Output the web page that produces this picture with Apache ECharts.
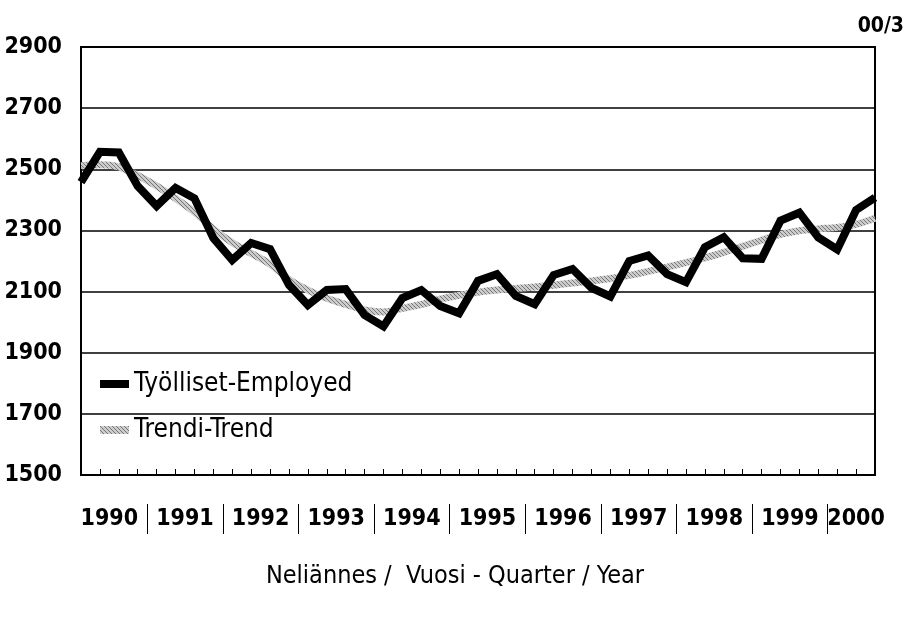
<!DOCTYPE html>
<html>
<head>
<meta charset="utf-8">
<script src="https://cdn.jsdelivr.net/npm/echarts@6/dist/echarts.min.js"></script>
<style>
html, body { margin: 0; padding: 0; background: #fff; }
#main { width: 910px; height: 619px; }
</style>
</head>
<body>
<div id="main"></div>
<script>
// vuodet ja neljännekset, 1990Q1 - 2000Q3
var years = ['1990', '1991', '1992', '1993', '1994', '1995', '1996', '1997', '1998', '1999', '2000'];
var quarterNames = ['I', 'II', 'III', 'IV'];
var quarters = [];
years.forEach(function (y, yi) {
    quarterNames.forEach(function (q, qi) {
        if (yi < years.length - 1 || qi < 3) quarters.push(y + '/' + q);
    });
});

// työlliset, tuhatta henkeä
var employed = [
    2458, 2557, 2555, 2445, 2380, 2439, 2405, 2275, 2203, 2259, 2239,
    2122, 2056, 2105, 2108, 2023, 1986, 2079, 2105, 2053, 2029, 2135,
    2157, 2086, 2059, 2154, 2174, 2112, 2084, 2200, 2218, 2157, 2131,
    2245, 2278, 2209, 2207, 2332, 2358, 2277, 2238, 2367, 2407
];
// trendi
var trend = [
    2512, 2515, 2508, 2480, 2445, 2405, 2360, 2305, 2260, 2225, 2190,
    2140, 2105, 2078, 2058, 2040, 2033, 2045, 2058, 2075, 2088, 2098,
    2105, 2110, 2115, 2121, 2128, 2135, 2143, 2153, 2166, 2180, 2195,
    2210, 2228, 2248, 2268, 2287, 2299, 2305, 2310, 2320, 2340
];

// vuosien paikat neljännesakselilla
var yearLabelPos = [1.5, 5.5, 9.5, 13.5, 17.5, 21.5, 25.5, 29.5, 33.5, 37.5, 41];
var yearSepPos = [3.5, 7.5, 11.5, 15.5, 19.5, 23.5, 27.5, 31.5, 35.5, 39.5];

var narrow = "'DejaVu Sans Condensed', 'Liberation Sans Narrow', sans-serif";

// rasteri trendiviivalle
var pat = document.createElement('canvas');
pat.width = 4; pat.height = 4;
var pc = pat.getContext('2d');
pc.fillStyle = '#cccccc';
pc.fillRect(0, 0, 4, 4);
pc.fillStyle = '#777777';
pc.fillRect(0, 0, 1, 1); pc.fillRect(1, 1, 1, 1); pc.fillRect(2, 2, 1, 1); pc.fillRect(3, 3, 1, 1);
var hatch = { image: pat, repeat: 'repeat' };

var myChart = echarts.init(document.getElementById('main'));
var option = {
    animation: false,
    backgroundColor: '#fff',
    grid: {
        left: 81,
        top: 47,
        right: 35,
        bottom: 144,
        outerBoundsMode: 'none',
        containLabel: false,
        show: true,
        borderColor: '#000',
        borderWidth: 2
    },
    legend: {
        orient: 'vertical',
        left: 100,
        top: 371,
        padding: 0,
        itemWidth: 29,
        itemHeight: 8,
        itemGap: 20,
        textStyle: { fontFamily: narrow, fontSize: 26, lineHeight: 26, color: '#000' },
        data: [
            { name: 'Työlliset-Employed', icon: 'rect' },
            { name: 'Trendi-Trend', icon: 'rect' }
        ]
    },
    xAxis: [
        {
            type: 'category',
            boundaryGap: false,
            data: quarters,
            axisLine: { lineStyle: { color: '#000', width: 2 } },
            axisTick: { show: true, inside: true, length: 6, interval: 0, lineStyle: { color: '#000', width: 1 } },
            axisLabel: { show: false },
            splitLine: { show: false }
        },
        {
            type: 'value',
            min: 0,
            max: quarters.length - 1,
            position: 'bottom',
            offset: 29,
            axisLine: { show: false },
            axisTick: { show: true, length: 30, customValues: yearSepPos, lineStyle: { color: '#000', width: 1 } },
            axisLabel: {
                customValues: yearLabelPos,
                margin: 15,
                verticalAlign: 'middle',
                hideOverlap: false,
                showMaxLabel: true,
                fontFamily: narrow,
                fontWeight: 'bold',
                fontSize: 23,
                color: '#000',
                formatter: function (v) { return years[Math.floor(v / 4)]; }
            },
            splitLine: { show: false }
        }
    ],
    yAxis: {
        type: 'value',
        min: 1500,
        max: 2900,
        interval: 200,
        axisLine: { show: true, lineStyle: { color: '#000', width: 2 } },
        axisTick: { show: false },
        axisLabel: {
            margin: 19,
            fontFamily: narrow,
            fontWeight: 'bold',
            fontSize: 23,
            color: '#000',
            formatter: function (v) { return String(v); }
        },
        splitLine: { lineStyle: { color: '#000', width: 1.5 } }
    },
    graphic: [
        {
            type: 'text',
            right: 6,
            top: 16,
            style: { text: '00/3', fontFamily: narrow, fontWeight: 'bold', fontSize: 21, fill: '#000' }
        },
        {
            type: 'text',
            left: 'center',
            top: 564,
            style: { text: 'Neliännes /  Vuosi - Quarter / Year', fontFamily: narrow, fontSize: 25, fill: '#000' }
        }
    ],
    series: [
        {
            name: 'Trendi-Trend',
            type: 'line',
            xAxisIndex: 0,
            data: trend,
            symbol: 'none',
            smooth: 0.3,
            itemStyle: { color: hatch },
            lineStyle: { color: hatch, width: 7 },
            z: 2
        },
        {
            name: 'Työlliset-Employed',
            type: 'line',
            xAxisIndex: 0,
            data: employed,
            symbol: 'none',
            itemStyle: { color: '#000' },
            lineStyle: { color: '#000', width: 8, join: 'miter' },
            z: 3
        }
    ]
};
myChart.setOption(option, true);
</script>
</body>
</html>
